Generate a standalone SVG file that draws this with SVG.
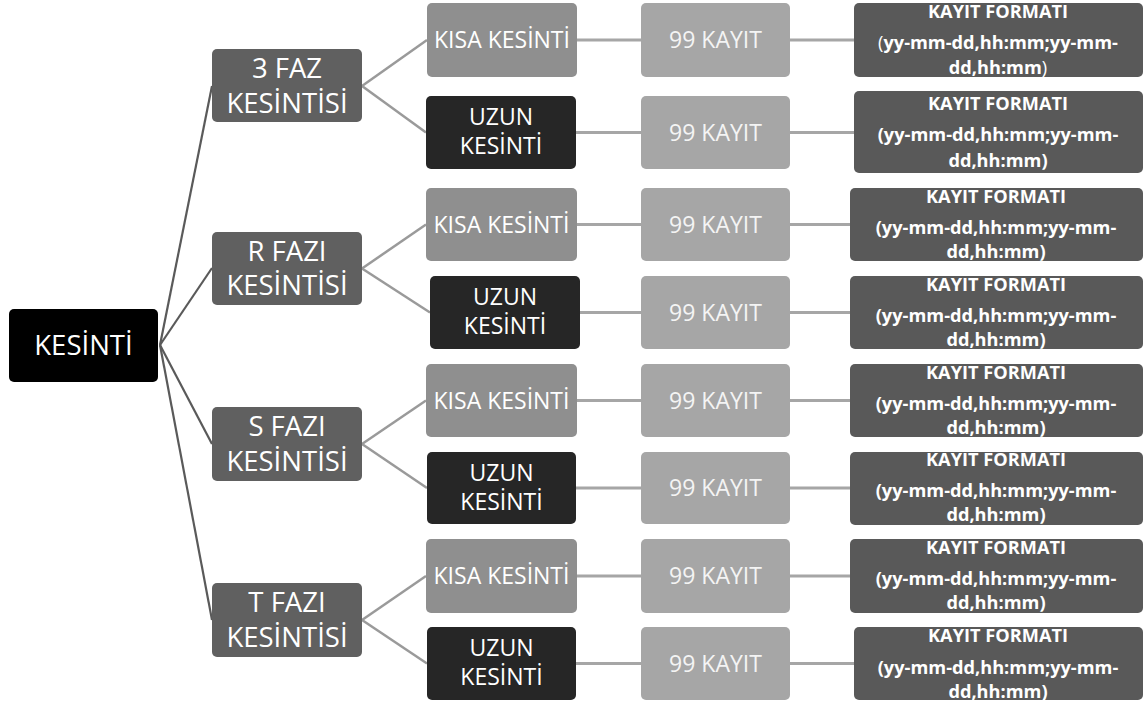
<svg xmlns="http://www.w3.org/2000/svg" width="1144" height="704" viewBox="0 0 1144 704">
<style>
text{font-family:"Open Sans","Noto Sans","DejaVu Sans",sans-serif;fill:#fff;text-anchor:middle}
.root{fill:#000}
.phase{fill:#606060}
.kisa{fill:#8f8f8f}
.uzun{fill:#262626}
.kay{fill:#a6a6a6}
.fmt{fill:#595959}
.t27{font-size:27.5px}
.t23{font-size:23px}
.kt{fill:#f4f4f4}
.b{font-size:18.2px;font-weight:bold}
.n{font-weight:normal}
.c1{stroke:#5a5a5a;stroke-width:2.2;fill:none}
.c2{stroke:#9a9a9a;stroke-width:2.5;fill:none}
.c3{stroke:#a6a6a6;stroke-width:3;fill:none}
</style>
<rect width="1144" height="704" fill="#fff"/>
<g id="connectors">
<line class="c1" x1="160" y1="345" x2="212" y2="86"/>
<line class="c1" x1="160" y1="345" x2="212" y2="268"/>
<line class="c1" x1="160" y1="345" x2="212" y2="444"/>
<line class="c1" x1="160" y1="345" x2="212" y2="620"/>
<line class="c2" x1="362" y1="86" x2="427" y2="40"/>
<line class="c2" x1="362" y1="86" x2="426" y2="132.5"/>
<line class="c2" x1="362" y1="268.5" x2="426" y2="224.5"/>
<line class="c2" x1="362" y1="268.5" x2="430" y2="312.5"/>
<line class="c2" x1="362" y1="444" x2="426" y2="400.5"/>
<line class="c2" x1="362" y1="444" x2="427" y2="488"/>
<line class="c2" x1="362" y1="620" x2="426" y2="576"/>
<line class="c2" x1="362" y1="620" x2="427" y2="663.5"/>
<line class="c3" x1="577" y1="40" x2="641" y2="40"/>
<line class="c3" x1="576" y1="132.5" x2="641" y2="132.5"/>
<line class="c3" x1="577" y1="224.5" x2="641" y2="224.5"/>
<line class="c3" x1="580" y1="312.5" x2="641" y2="312.5"/>
<line class="c3" x1="577" y1="400.5" x2="641" y2="400.5"/>
<line class="c3" x1="576" y1="488" x2="641" y2="488"/>
<line class="c3" x1="577" y1="576" x2="641" y2="576"/>
<line class="c3" x1="576" y1="663.5" x2="641" y2="663.5"/>
<line class="c3" x1="790" y1="40" x2="854" y2="40"/>
<line class="c3" x1="790" y1="132.5" x2="854" y2="132.5"/>
<line class="c3" x1="790" y1="224.5" x2="850" y2="224.5"/>
<line class="c3" x1="790" y1="312.5" x2="850" y2="312.5"/>
<line class="c3" x1="790" y1="400.5" x2="850" y2="400.5"/>
<line class="c3" x1="790" y1="488" x2="850" y2="488"/>
<line class="c3" x1="790" y1="576" x2="850" y2="576"/>
<line class="c3" x1="790" y1="663.5" x2="854" y2="663.5"/>
</g>
<g id="root">
<rect class="root" x="9" y="309" width="149" height="73" rx="5"/>
<text class="t27" x="83.5" y="355">KESİNTİ</text>
</g>
<g id="phase-3faz">
<rect class="phase" x="212" y="49" width="150" height="73" rx="5"/>
<text class="t27" x="287" y="78">3 FAZ</text>
<text class="t27" x="287" y="113">KESİNTİSİ</text>
</g>
<g id="phase-r">
<rect class="phase" x="212" y="232" width="150" height="73" rx="5"/>
<text class="t27" x="287" y="260.5">R FAZI</text>
<text class="t27" x="287" y="295">KESİNTİSİ</text>
</g>
<g id="phase-s">
<rect class="phase" x="212" y="407" width="150" height="74" rx="5"/>
<text class="t27" x="287" y="436">S FAZI</text>
<text class="t27" x="287" y="471">KESİNTİSİ</text>
</g>
<g id="phase-t">
<rect class="phase" x="212" y="583" width="150" height="74" rx="5"/>
<text class="t27" x="287" y="612">T FAZI</text>
<text class="t27" x="287" y="647">KESİNTİSİ</text>
</g>
<g id="kisa-1">
<rect class="kisa" x="427" y="3" width="150" height="74" rx="5"/>
<text class="t23" x="502" y="48">KISA KESİNTİ</text>
</g>
<g id="uzun-1">
<rect class="uzun" x="426" y="96" width="150" height="73" rx="5"/>
<text class="t23" x="501" y="125">UZUN</text>
<text class="t23" x="501" y="154">KESİNTİ</text>
</g>
<g id="kisa-2">
<rect class="kisa" x="426" y="188" width="151" height="73" rx="5"/>
<text class="t23" x="501.5" y="232.5">KISA KESİNTİ</text>
</g>
<g id="uzun-2">
<rect class="uzun" x="430" y="276" width="150" height="73" rx="5"/>
<text class="t23" x="505" y="305">UZUN</text>
<text class="t23" x="505" y="334">KESİNTİ</text>
</g>
<g id="kisa-3">
<rect class="kisa" x="426" y="364" width="151" height="73" rx="5"/>
<text class="t23" x="501.5" y="408.5">KISA KESİNTİ</text>
</g>
<g id="uzun-3">
<rect class="uzun" x="427" y="452" width="149" height="72" rx="5"/>
<text class="t23" x="501.5" y="481">UZUN</text>
<text class="t23" x="501.5" y="510">KESİNTİ</text>
</g>
<g id="kisa-4">
<rect class="kisa" x="426" y="539" width="151" height="74" rx="5"/>
<text class="t23" x="501.5" y="584">KISA KESİNTİ</text>
</g>
<g id="uzun-4">
<rect class="uzun" x="427" y="627" width="149" height="73" rx="5"/>
<text class="t23" x="501.5" y="656">UZUN</text>
<text class="t23" x="501.5" y="685">KESİNTİ</text>
</g>
<g id="kayit-1"><rect class="kay" x="641" y="3" width="149" height="74" rx="5"/><text class="t23 kt" x="715.5" y="48">99 KAYIT</text></g>
<g id="kayit-2"><rect class="kay" x="641" y="96" width="149" height="73" rx="5"/><text class="t23 kt" x="715.5" y="140.5">99 KAYIT</text></g>
<g id="kayit-3"><rect class="kay" x="641" y="188" width="149" height="73" rx="5"/><text class="t23 kt" x="715.5" y="232.5">99 KAYIT</text></g>
<g id="kayit-4"><rect class="kay" x="641" y="276" width="149" height="73" rx="5"/><text class="t23 kt" x="715.5" y="320.5">99 KAYIT</text></g>
<g id="kayit-5"><rect class="kay" x="641" y="364" width="149" height="73" rx="5"/><text class="t23 kt" x="715.5" y="408.5">99 KAYIT</text></g>
<g id="kayit-6"><rect class="kay" x="641" y="452" width="149" height="72" rx="5"/><text class="t23 kt" x="715.5" y="496">99 KAYIT</text></g>
<g id="kayit-7"><rect class="kay" x="641" y="539" width="149" height="74" rx="5"/><text class="t23 kt" x="715.5" y="584">99 KAYIT</text></g>
<g id="kayit-8"><rect class="kay" x="641" y="627" width="149" height="73" rx="5"/><text class="t23 kt" x="715.5" y="671.5">99 KAYIT</text></g>
<g id="format-1">
<rect class="fmt" x="854" y="3" width="289" height="74" rx="5"/>
<text class="b" x="998" y="18">KAYIT FORMATI</text>
<text class="b" x="998" y="49"><tspan class="n">(</tspan>yy-mm-dd,hh:mm;yy-mm-</text>
<text class="b" x="998" y="74">dd,hh:mm<tspan class="n">)</tspan></text>
</g>
<g id="format-2">
<rect class="fmt" x="854" y="91" width="289" height="82" rx="5"/>
<text class="b" x="998" y="110">KAYIT FORMATI</text>
<text class="b" x="998" y="141">(yy-mm-dd,hh:mm;yy-mm-</text>
<text class="b" x="998" y="167">dd,hh:mm)</text>
</g>
<g id="format-3">
<rect class="fmt" x="850" y="188" width="293" height="73" rx="5"/>
<text class="b" x="996" y="203">KAYIT FORMATI</text>
<text class="b" x="996" y="234">(yy-mm-dd,hh:mm;yy-mm-</text>
<text class="b" x="996" y="258">dd,hh:mm)</text>
</g>
<g id="format-4">
<rect class="fmt" x="850" y="276" width="293" height="73" rx="5"/>
<text class="b" x="996" y="291">KAYIT FORMATI</text>
<text class="b" x="996" y="322">(yy-mm-dd,hh:mm;yy-mm-</text>
<text class="b" x="996" y="346">dd,hh:mm)</text>
</g>
<g id="format-5">
<rect class="fmt" x="850" y="364" width="293" height="73" rx="5"/>
<text class="b" x="996" y="379">KAYIT FORMATI</text>
<text class="b" x="996" y="410">(yy-mm-dd,hh:mm;yy-mm-</text>
<text class="b" x="996" y="434">dd,hh:mm)</text>
</g>
<g id="format-6">
<rect class="fmt" x="850" y="452" width="293" height="73" rx="5"/>
<text class="b" x="996" y="466">KAYIT FORMATI</text>
<text class="b" x="996" y="497">(yy-mm-dd,hh:mm;yy-mm-</text>
<text class="b" x="996" y="521">dd,hh:mm)</text>
</g>
<g id="format-7">
<rect class="fmt" x="850" y="539" width="293" height="74" rx="5"/>
<text class="b" x="996" y="554">KAYIT FORMATI</text>
<text class="b" x="996" y="585">(yy-mm-dd,hh:mm;yy-mm-</text>
<text class="b" x="996" y="609">dd,hh:mm)</text>
</g>
<g id="format-8">
<rect class="fmt" x="854" y="627" width="289" height="73" rx="5"/>
<text class="b" x="998" y="642">KAYIT FORMATI</text>
<text class="b" x="998" y="674">(yy-mm-dd,hh:mm;yy-mm-</text>
<text class="b" x="998" y="698">dd,hh:mm)</text>
</g>
</svg>
